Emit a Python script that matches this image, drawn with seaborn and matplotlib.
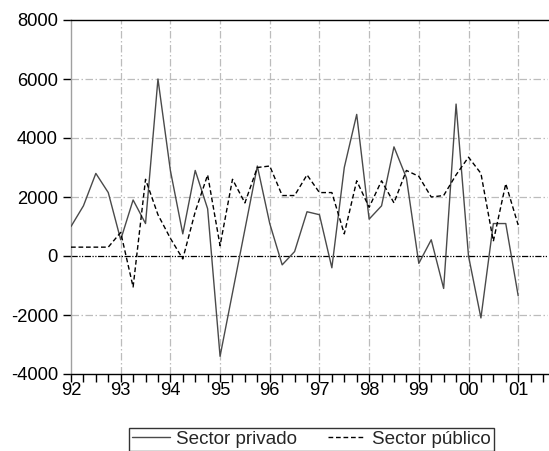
import numpy as np
import pandas as pd
import matplotlib
matplotlib.use("Agg")
import matplotlib.pyplot as plt
import seaborn as sns

# Quarterly series, 1992Q1 - 2001Q1
quarters = pd.period_range("1992Q1", "2001Q1", freq="Q")

sector_privado = [
    1000, 1700, 2800, 2150,     # 1992
    550, 1900, 1100, 6000,      # 1993
    2900, 750, 2900, 1600,      # 1994
    -3400, -1250, 900, 3050,    # 1995
    1100, -300, 150, 1500,      # 1996
    1400, -400, 3000, 4800,     # 1997
    1250, 1700, 3700, 2650,     # 1998
    -250, 550, -1100, 5150,     # 1999
    0, -2100, 1100, 1100,       # 2000
    -1350,                      # 2001
]

sector_publico = [
    300, 300, 300, 300,         # 1992
    800, -1050, 2600, 1400,     # 1993
    600, -100, 1500, 2750,      # 1994
    350, 2600, 1800, 3000,      # 1995
    3050, 2050, 2050, 2750,     # 1996
    2150, 2150, 750, 2550,      # 1997
    1650, 2550, 1800, 2900,     # 1998
    2700, 2000, 2050, 2750,     # 1999
    3350, 2800, 500, 2450,      # 2000
    1050,                       # 2001
]

year_ticks = list(range(1992, 2002))
year_labels = ["92", "93", "94", "95", "96", "97", "98", "99", "00", "01"]
y_ticks = [-4000, -2000, 0, 2000, 4000, 6000, 8000]
y_labels = [str(v) for v in y_ticks]

sns.set_theme(style="white")
plt.rcParams["font.family"] = ["Liberation Sans", "DejaVu Sans"]

t = np.asarray(quarters.year) + (np.asarray(quarters.quarter) - 1) / 4.0
df = pd.DataFrame({
    "t": t,
    "Sector privado": sector_privado,
    "Sector público": sector_publico,
})

W, H = 549, 451
fig = plt.figure(figsize=(W / 100, H / 100), dpi=100)
ax = fig.add_axes([71 / W, 77 / H, (548 - 71) / W, 354 / H])

# Grid: grey dash-dot lines, black zero line
grid_style = dict(color="#bcbcbc", lw=0.9, linestyle=(0, (6, 2, 1.2, 2)), zorder=1)
for y in [-2000, 2000, 4000, 6000]:
    ax.axhline(y, **grid_style)
for x in year_ticks[1:]:
    ax.axvline(x, **grid_style)
ax.axhline(0, color="black", lw=0.9, linestyle=(0, (5, 1.2, 1, 1.2, 1, 1.2)), zorder=1)

sns.lineplot(data=df, x="t", y="Sector privado", ax=ax, color="#4a4a4a",
             lw=1.0, label="Sector privado", zorder=3)
sns.lineplot(data=df, x="t", y="Sector público", ax=ax, color="black",
             lw=1.0, linestyle=(0, (3.4, 2)), label="Sector público", zorder=4)

ax.set_xlim(1992, 2001.6)
ax.set_ylim(-4000, 8000)
ax.set_xlabel("")
ax.set_ylabel("")

ax.set_xticks(year_ticks)
ax.set_xticklabels(year_labels)
ax.set_xticks(np.arange(1992, 2001.6, 0.25), minor=True)
ax.set_yticks(y_ticks)
ax.set_yticklabels(y_labels)

ax.tick_params(axis="both", which="both", direction="out", colors="black",
               labelsize=13.2, width=1.0)
ax.tick_params(axis="x", which="both", length=5.5, pad=0.5, bottom=True, top=False)
ax.tick_params(axis="y", which="both", length=6, pad=3.5, left=True, right=False)
ax.tick_params(axis="y", which="minor", left=False)

for side in ["top", "bottom"]:
    ax.spines[side].set_color("black")
    ax.spines[side].set_linewidth(1.0)
ax.spines["left"].set_color("#a0a0a0")
ax.spines["left"].set_linewidth(1.0)
ax.spines["right"].set_visible(False)

handles, labels = ax.get_legend_handles_labels()
ax.get_legend().remove()
leg = fig.legend(handles, labels, loc="upper center",
                 bbox_to_anchor=(311.4 / W, 1 - 428 / H), ncol=2,
                 frameon=True, fancybox=False, edgecolor="black",
                 fontsize=13.6, handlelength=2.0, handletextpad=0.35,
                 columnspacing=1.6, borderpad=0.15, borderaxespad=0)
leg.get_frame().set_linewidth(1.0)

fig.savefig("out.png", dpi=100, facecolor="white")
